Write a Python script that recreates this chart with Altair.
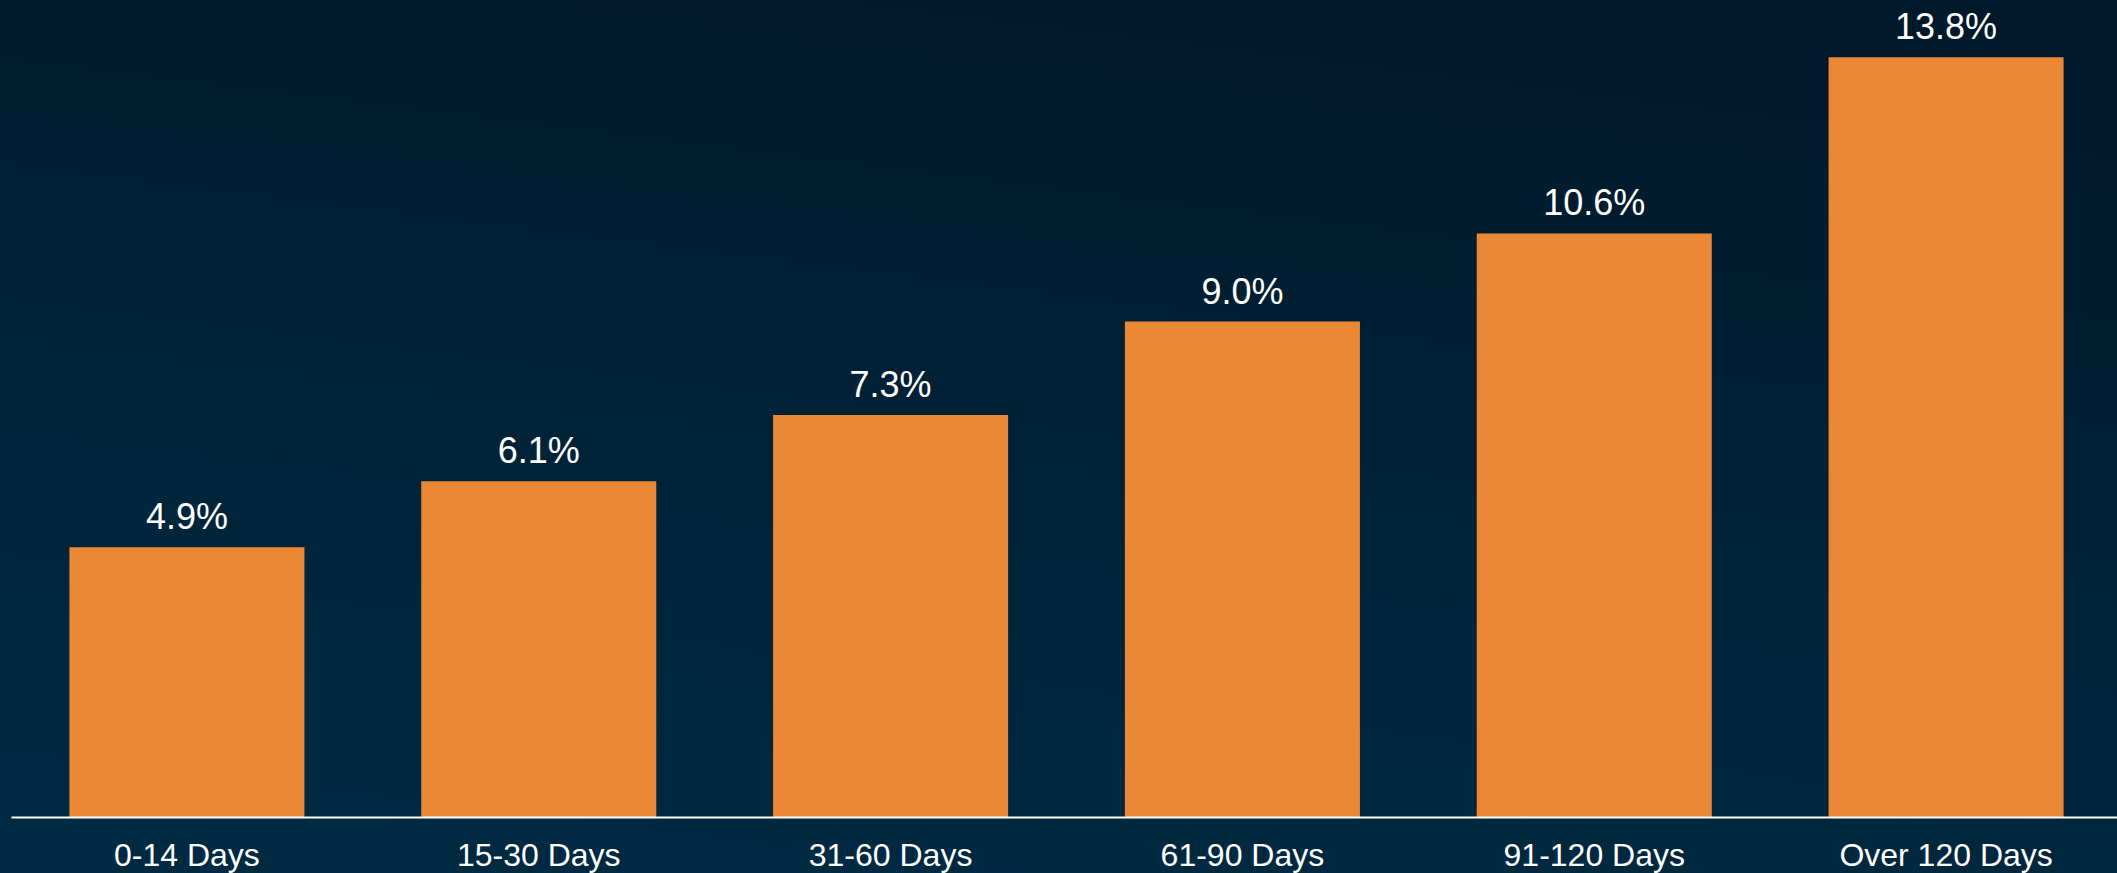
import altair as alt
import pandas as pd

categories = ["0-14 Days", "15-30 Days", "31-60 Days", "61-90 Days", "91-120 Days", "Over 120 Days"]
values = [4.9, 6.1, 7.3, 9.0, 10.6, 13.8]
labels = ["4.9%", "6.1%", "7.3%", "9.0%", "10.6%", "13.8%"]

df = pd.DataFrame({"cat": categories, "val": values, "lab": labels})
bg_df = pd.DataFrame({"k": [0]})

W, H = 2106, 817
FONT = "Liberation Sans"

xscale = alt.Scale(paddingInner=0.332, paddingOuter=0.166, range=[0, 2111])
xenc = alt.X("cat:N", sort=categories, title=None, scale=xscale,
             axis=alt.Axis(labelAngle=0, labelFontSize=32, labelColor="white", labelFont=FONT,
                           labelPadding=23, ticks=False, tickSize=0, domainColor="white",
                           domainWidth=2, grid=False, labelFontWeight="normal", zindex=2,
                           labelLimit=600))
yenc = alt.Y("val:Q", scale=alt.Scale(domain=[0, 14.84], nice=False, zero=True), axis=None)

background = alt.Chart(bg_df).mark_rect(
    fill=alt.Gradient(gradient="linear",
                      stops=[alt.GradientStop(color="#00192a", offset=0),
                             alt.GradientStop(color="#002a42", offset=1)],
                      x1=0.65, x2=0.35, y1=0, y2=1)
).encode(x=alt.value(-11), x2=alt.value(W), y=alt.value(0), y2=alt.value(873))

bars = alt.Chart(df).mark_bar(color="#EB8836").encode(x=xenc, y=yenc)
text = alt.Chart(df).mark_text(fontSize=36, color="white", font=FONT, baseline="alphabetic", dy=-18).encode(
    x=alt.X("cat:N", sort=categories, scale=xscale), y=yenc, text="lab:N")

chart = alt.layer(background, bars, text).properties(
    width=W, height=H, background="#00233a",
    padding={"left": 11, "top": 0, "right": 0, "bottom": 56},
    autosize=alt.AutoSizeParams(type="none")
).configure_view(stroke=None)

chart.save("out.html", embed_options={"renderer": "svg", "actions": False})
